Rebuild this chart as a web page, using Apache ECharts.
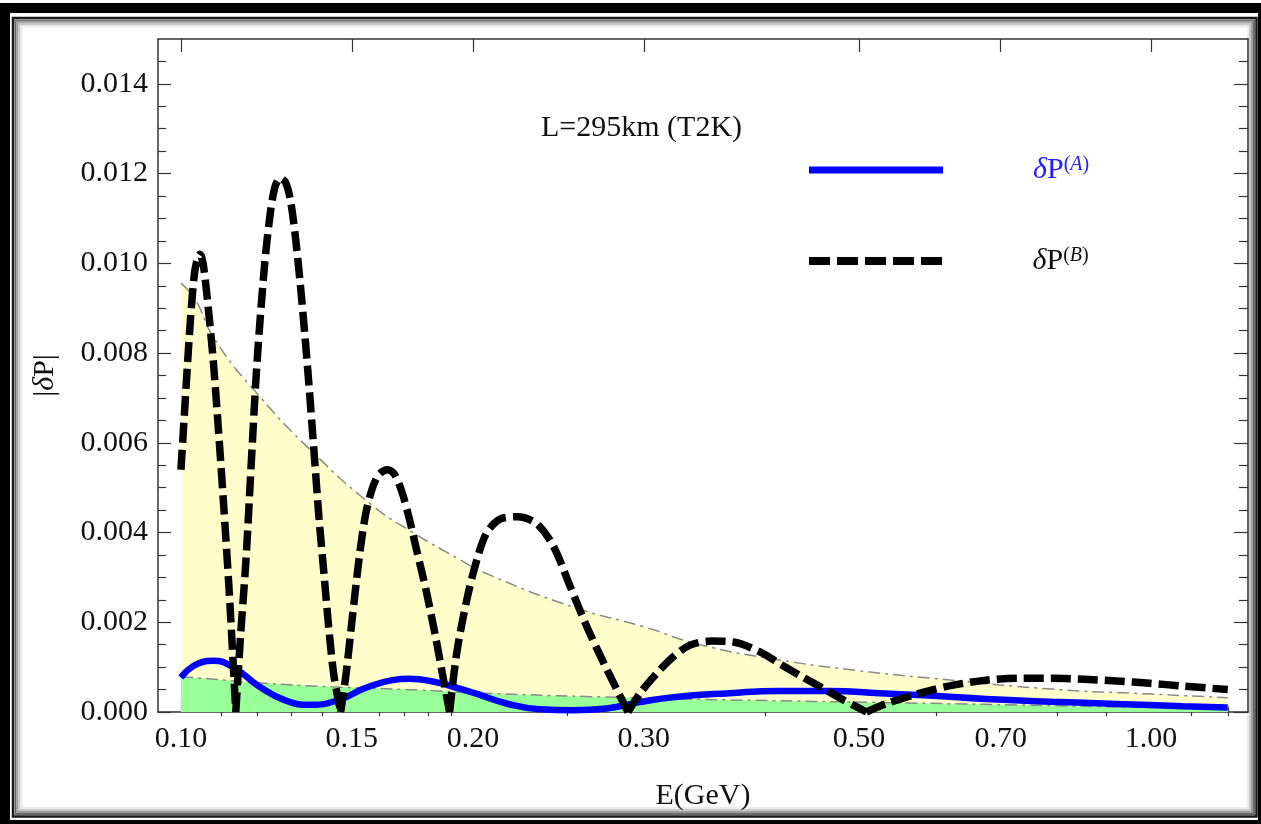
<!DOCTYPE html>
<html><head><meta charset="utf-8">
<script src="https://cdn.jsdelivr.net/npm/echarts@6/dist/echarts.min.js"></script>
<style>html,body{margin:0;padding:0;background:#fff}#c{width:1261px;height:824px}</style>
</head><body><div id="c"></div>
<script>
// ---------- tick definitions ----------
const xMajorTicks = [0.10, 0.15, 0.20, 0.30, 0.50, 0.70, 1.00];
const xMinorTicks = [0.11, 0.12, 0.13, 0.14, 0.16, 0.17, 0.18, 0.19, 0.25, 0.4, 0.6, 0.8, 0.9, 1.1, 1.2];
const yMajorTicks = [0, 0.002, 0.004, 0.006, 0.008, 0.010, 0.012, 0.014];
const yMinorTicks = [0.0005, 0.001, 0.0015, 0.0025, 0.003, 0.0035, 0.0045, 0.005, 0.0055, 0.0065, 0.007, 0.0075,
  0.0085, 0.009, 0.0095, 0.0105, 0.011, 0.0115, 0.0125, 0.013, 0.0135, 0.0145];

// ---------- upper envelope (yellow band) ----------
const energyU = [0.100, 0.1034, 0.1084, 0.1198, 0.1366, 0.1576, 0.1734, 0.1938, 0.2047, 0.2535, 0.300, 0.343, 0.414, 0.500, 0.596, 0.790, 1.000, 1.200];
const dPU     = [0.00956, 0.0092, 0.0083, 0.0071, 0.0058, 0.0046, 0.0040, 0.0034, 0.00312, 0.00234, 0.0019, 0.0015, 0.00116, 0.00092, 0.00075, 0.00051, 0.0004, 0.00032];

// ---------- lower envelope (green band) ----------
const energyL = [0.100, 0.104, 0.120, 0.1434, 0.1763, 0.2047, 0.290, 0.368, 0.568, 0.800, 1.000, 1.200];
const dPL     = [0.00078, 0.00076, 0.00065, 0.00056, 0.00049, 0.00042, 0.00032, 0.00027, 0.00020, 0.00014, 0.00010, 0.00007];

// ---------- deltaP(A) (blue solid) ----------
const energyA = [0.100, 0.1042, 0.1080, 0.1137, 0.1202, 0.1281, 0.1362, 0.1455, 0.1551, 0.1652, 0.1719, 0.1818, 0.1938, 0.2001,
  0.2166, 0.2344, 0.2537, 0.2747, 0.2974, 0.3217, 0.3676, 0.4143, 0.4666, 0.5256, 0.5966, 0.676, 0.790, 0.922, 1.078, 1.200];
const dPA     = [0.00077, 0.00108, 0.00114, 0.00097, 0.00058, 0.00026, 0.00016, 0.00027, 0.00054, 0.00071, 0.00074, 0.00068, 0.00052, 0.00043,
  0.00019, 0.00006, 0.00004, 0.00008, 0.00022, 0.00033, 0.00042, 0.00047, 0.00047, 0.00042, 0.00036, 0.00029, 0.00023, 0.00018, 0.00013, 0.00010];

// ---------- deltaP(B) (black dashed); null = break at each zero ----------
const energyB = [
  0.1000, 0.1008, 0.1016, 0.1024, 0.1033, 0.1040, 0.1046, 0.1054, 0.1067, 0.1080, 0.1093, 0.1106, 0.1122, 0.1139, 0.1139,
  0.1139, 0.1152, 0.1167, 0.1182, 0.1198, 0.1220, 0.1236, 0.1250, 0.1266, 0.1282, 0.1297, 0.1312, 0.1328, 0.1342, 0.1355, 0.1366, 0.1377, 0.1388, 0.1404, 0.1420, 0.1438, 0.1461, 0.1461,
  0.1461, 0.1479, 0.1502, 0.1526, 0.1550, 0.1576, 0.1601, 0.1633, 0.1660, 0.1690, 0.1720, 0.1750, 0.1790, 0.1833, 0.1862, 0.1892, 0.1892,
  0.1892, 0.1924, 0.1971, 0.2019, 0.2067, 0.2133, 0.2222, 0.2326, 0.2420, 0.2519, 0.2621, 0.2727, 0.2814, 0.2890, 0.2890,
  0.2890, 0.2974, 0.3093, 0.3217, 0.3349, 0.3525, 0.3710, 0.3953, 0.4167, 0.4373, 0.4590, 0.4817, 0.5090, 0.5090,
  0.5090, 0.5340, 0.5694, 0.5966, 0.6254, 0.6761, 0.7306, 0.7897, 0.8533, 0.9224, 0.9970, 1.0776, 1.2000];
const dPB = [
  0.0054, 0.0066, 0.0078, 0.0089, 0.0098, 0.0101, 0.0102, 0.0100, 0.0090, 0.0078, 0.0063, 0.0047, 0.0026, 0, null,
  0, 0.0017, 0.0034, 0.0056, 0.0078, 0.0100, 0.0111, 0.0117, 0.0119, 0.0118, 0.0114, 0.0106, 0.0095, 0.0084, 0.0073, 0.0063, 0.0053, 0.0043, 0.0031, 0.0019, 0.0008, 0, null,
  0, 0.0008, 0.0021, 0.0034, 0.0044, 0.0050, 0.0053, 0.0054, 0.0053, 0.0049, 0.0043, 0.0036, 0.0027, 0.0016, 0.0008, 0, null,
  0, 0.0013, 0.0025, 0.0034, 0.0040, 0.0043, 0.00435, 0.0042, 0.0037, 0.0028, 0.0019, 0.0011, 0.0005, 0, null,
  0, 0.00042, 0.00086, 0.00123, 0.00149, 0.00158, 0.00156, 0.00134, 0.00104, 0.00078, 0.00053, 0.00027, 0, null,
  0, 0.00019, 0.00038, 0.00050, 0.00060, 0.00071, 0.00075, 0.00075, 0.00073, 0.00069, 0.00064, 0.00058, 0.00050];

const FONT = 'Liberation Serif';
const FS = 30;
const X_MIN = 0.0947, X_MAX = 1.259;
const zip = (xs, ys) => xs.map((x, i) => [x, ys[i] == null ? '-' : ys[i]]);

const axisCol = '#333';
function xAx(pos, ticks, len, extra) {
  return Object.assign({
    type: 'log', logBase: 10, min: X_MIN, max: X_MAX, position: pos,
    axisLine: { show: false }, splitLine: { show: false },
    axisTick: { show: true, inside: true, length: len, customValues: ticks, lineStyle: { color: axisCol, width: 1.2 } },
    axisLabel: { show: false }
  }, extra || {});
}
function yAx(pos, ticks, len, extra) {
  return Object.assign({
    type: 'value', min: 0, max: 0.015, position: pos,
    axisLine: { show: false }, splitLine: { show: false },
    axisTick: { show: true, inside: true, length: len, customValues: ticks, lineStyle: { color: axisCol, width: 1.2 } },
    axisLabel: { show: false }
  }, extra || {});
}
const lineOn = { show: true, onZero: false, lineStyle: { color: axisCol, width: 1.5 } };

function rich(color) {
  return {
    d: { fontFamily: FONT, fontStyle: 'italic', fontSize: FS, color: color },
    p: { fontFamily: FONT, fontSize: FS, color: color },
    s: { fontFamily: FONT, fontSize: 20, color: color, verticalAlign: 'top' },
    i: { fontFamily: FONT, fontSize: 20, fontStyle: 'italic', color: color, verticalAlign: 'top' }
  };
}
const legendFmt = n => n === 'δP(A)' ? '{d|δ}{p|P}{s|(}{i|A}{s|)}' : '{d|δ}{p|P}{s|(}{i|B}{s|)}';
const ICON_SOLID = 'path://M0,0H134V7H0Z';
const ICON_DASH = 'path://M0,0H21V8H0Z M28,0H49V8H28Z M56,0H77V8H56Z M84,0H105V8H84Z M112,0H133V8H112Z';

const frame = [
  { type: 'rect', shape: { x: 0, y: 3, width: 10, height: 821 }, style: { fill: '#000' } },
  { type: 'rect', shape: { x: 0, y: 3, width: 1261, height: 10 }, style: { fill: '#000' } },
  { type: 'rect', shape: { x: 1258, y: 3, width: 3, height: 821 }, style: { fill: '#000' } },
  { type: 'rect', shape: { x: 0, y: 820, width: 1261, height: 4 }, style: { fill: '#000' } },
  { type: 'rect', shape: { x: 13, y: 18, width: 1243.5, height: 798.5 }, style: { fill: 'none', stroke: '#1a1a1a', lineWidth: 2.5 } },
  { type: 'rect', shape: { x: 15.5, y: 20.5, width: 1238.5, height: 793.5 }, style: { fill: 'none', stroke: '#6a6a6a', lineWidth: 2 } },
  { type: 'rect', shape: { x: 17.5, y: 22.5, width: 1234.5, height: 789.5 }, style: { fill: 'none', stroke: '#9c9c9c', lineWidth: 2 } },
  { type: 'rect', shape: { x: 19.5, y: 24.5, width: 1230.5, height: 785.5 }, style: { fill: 'none', stroke: '#c9c9c9', lineWidth: 2 } },
  { type: 'rect', shape: { x: 21.5, y: 26.5, width: 1226.5, height: 781.5 }, style: { fill: 'none', stroke: '#ebebeb', lineWidth: 2 } }
].map(e => Object.assign(e, { silent: true }));

const chart = echarts.init(document.getElementById('c'), null, { renderer: 'canvas' });
chart.setOption({
  animation: false,
  backgroundColor: '#fff',
  graphic: { elements: frame },
  title: {
    text: 'L=295km (T2K)', left: 541, top: 113, padding: 0,
    textStyle: { fontFamily: FONT, fontSize: FS, fontWeight: 'normal', color: '#111' }
  },
  legend: [
    { left: 809, top: 155, padding: 0, itemWidth: 134, itemHeight: 7, selectedMode: false, itemStyle: { borderWidth: 0 },
      data: [{ name: 'δP(A)', icon: ICON_SOLID }], formatter: legendFmt,
      textStyle: { color: '#2020ff', padding: [0, 0, 0, 85], rich: rich('#2020ff') } },
    { left: 809, top: 246, padding: 0, itemWidth: 134, itemHeight: 8, selectedMode: false, itemStyle: { borderWidth: 0 },
      data: [{ name: 'δP(B)', icon: ICON_DASH }], formatter: legendFmt,
      textStyle: { color: '#111', padding: [0, 0, 0, 85], rich: rich('#111') } }
  ],
  grid: { left: 158, top: 39, right: 13, bottom: 112, outerBoundsMode: 'none' },
  xAxis: [
    xAx('bottom', xMajorTicks, 12, {
      axisLine: lineOn,
      axisLabel: { show: true, customValues: xMajorTicks, formatter: v => Number(v).toFixed(2), margin: 12,
        fontFamily: FONT, fontSize: FS, color: '#111' },
      name: 'E(GeV)', nameLocation: 'middle', nameGap: 69,
      nameTextStyle: { fontFamily: FONT, fontSize: FS, color: '#111' }
    }),
    xAx('bottom', xMinorTicks, 5),
    xAx('top', xMajorTicks, 13, { axisLine: lineOn }),
    xAx('top', xMinorTicks, 4)
  ],
  yAxis: [
    yAx('left', yMajorTicks, 13, {
      axisLine: lineOn,
      axisLabel: { show: true, customValues: yMajorTicks, formatter: v => Number(v).toFixed(3), margin: 10,
        fontFamily: FONT, fontSize: FS, color: '#111' },
      name: '|{i|δ}P|', nameLocation: 'middle', nameGap: 98,
      nameTextStyle: { fontFamily: FONT, fontSize: FS, color: '#111',
        rich: { i: { fontFamily: FONT, fontSize: FS, fontStyle: 'italic', color: '#111' } } }
    }),
    yAx('left', yMinorTicks, 8),
    yAx('right', yMajorTicks, 14, { axisLine: lineOn }),
    yAx('right', yMinorTicks, 9)
  ],
  series: [
    { name: 'upper', type: 'line', xAxisIndex: 0, yAxisIndex: 0, data: zip(energyU, dPU), smooth: true, symbol: 'none', silent: true, z: 1,
      lineStyle: { color: '#8a8a8a', width: 1.5, type: [12, 5, 3, 5] }, areaStyle: { color: '#ffffcc', opacity: 1 } },
    { name: 'lower', type: 'line', xAxisIndex: 0, yAxisIndex: 0, data: zip(energyL, dPL), smooth: true, symbol: 'none', silent: true, z: 1,
      lineStyle: { color: '#8a8a8a', width: 1.5, type: [12, 5, 3, 5] }, areaStyle: { color: '#99ff99', opacity: 1 } },
    { name: 'δP(A)', type: 'line', xAxisIndex: 0, yAxisIndex: 0, data: zip(energyA, dPA), smooth: true, symbol: 'none', z: 3,
      color: '#0000ff', lineStyle: { color: '#0000ff', width: 6.5 } },
    { name: 'δP(B)', type: 'line', xAxisIndex: 0, yAxisIndex: 0, data: zip(energyB, dPB), smooth: 0.3, symbol: 'none', z: 4,
      connectNulls: false, color: '#000000', lineStyle: { color: '#000000', width: 7.5, type: [20, 7] } }
  ]
});
</script></body></html>
